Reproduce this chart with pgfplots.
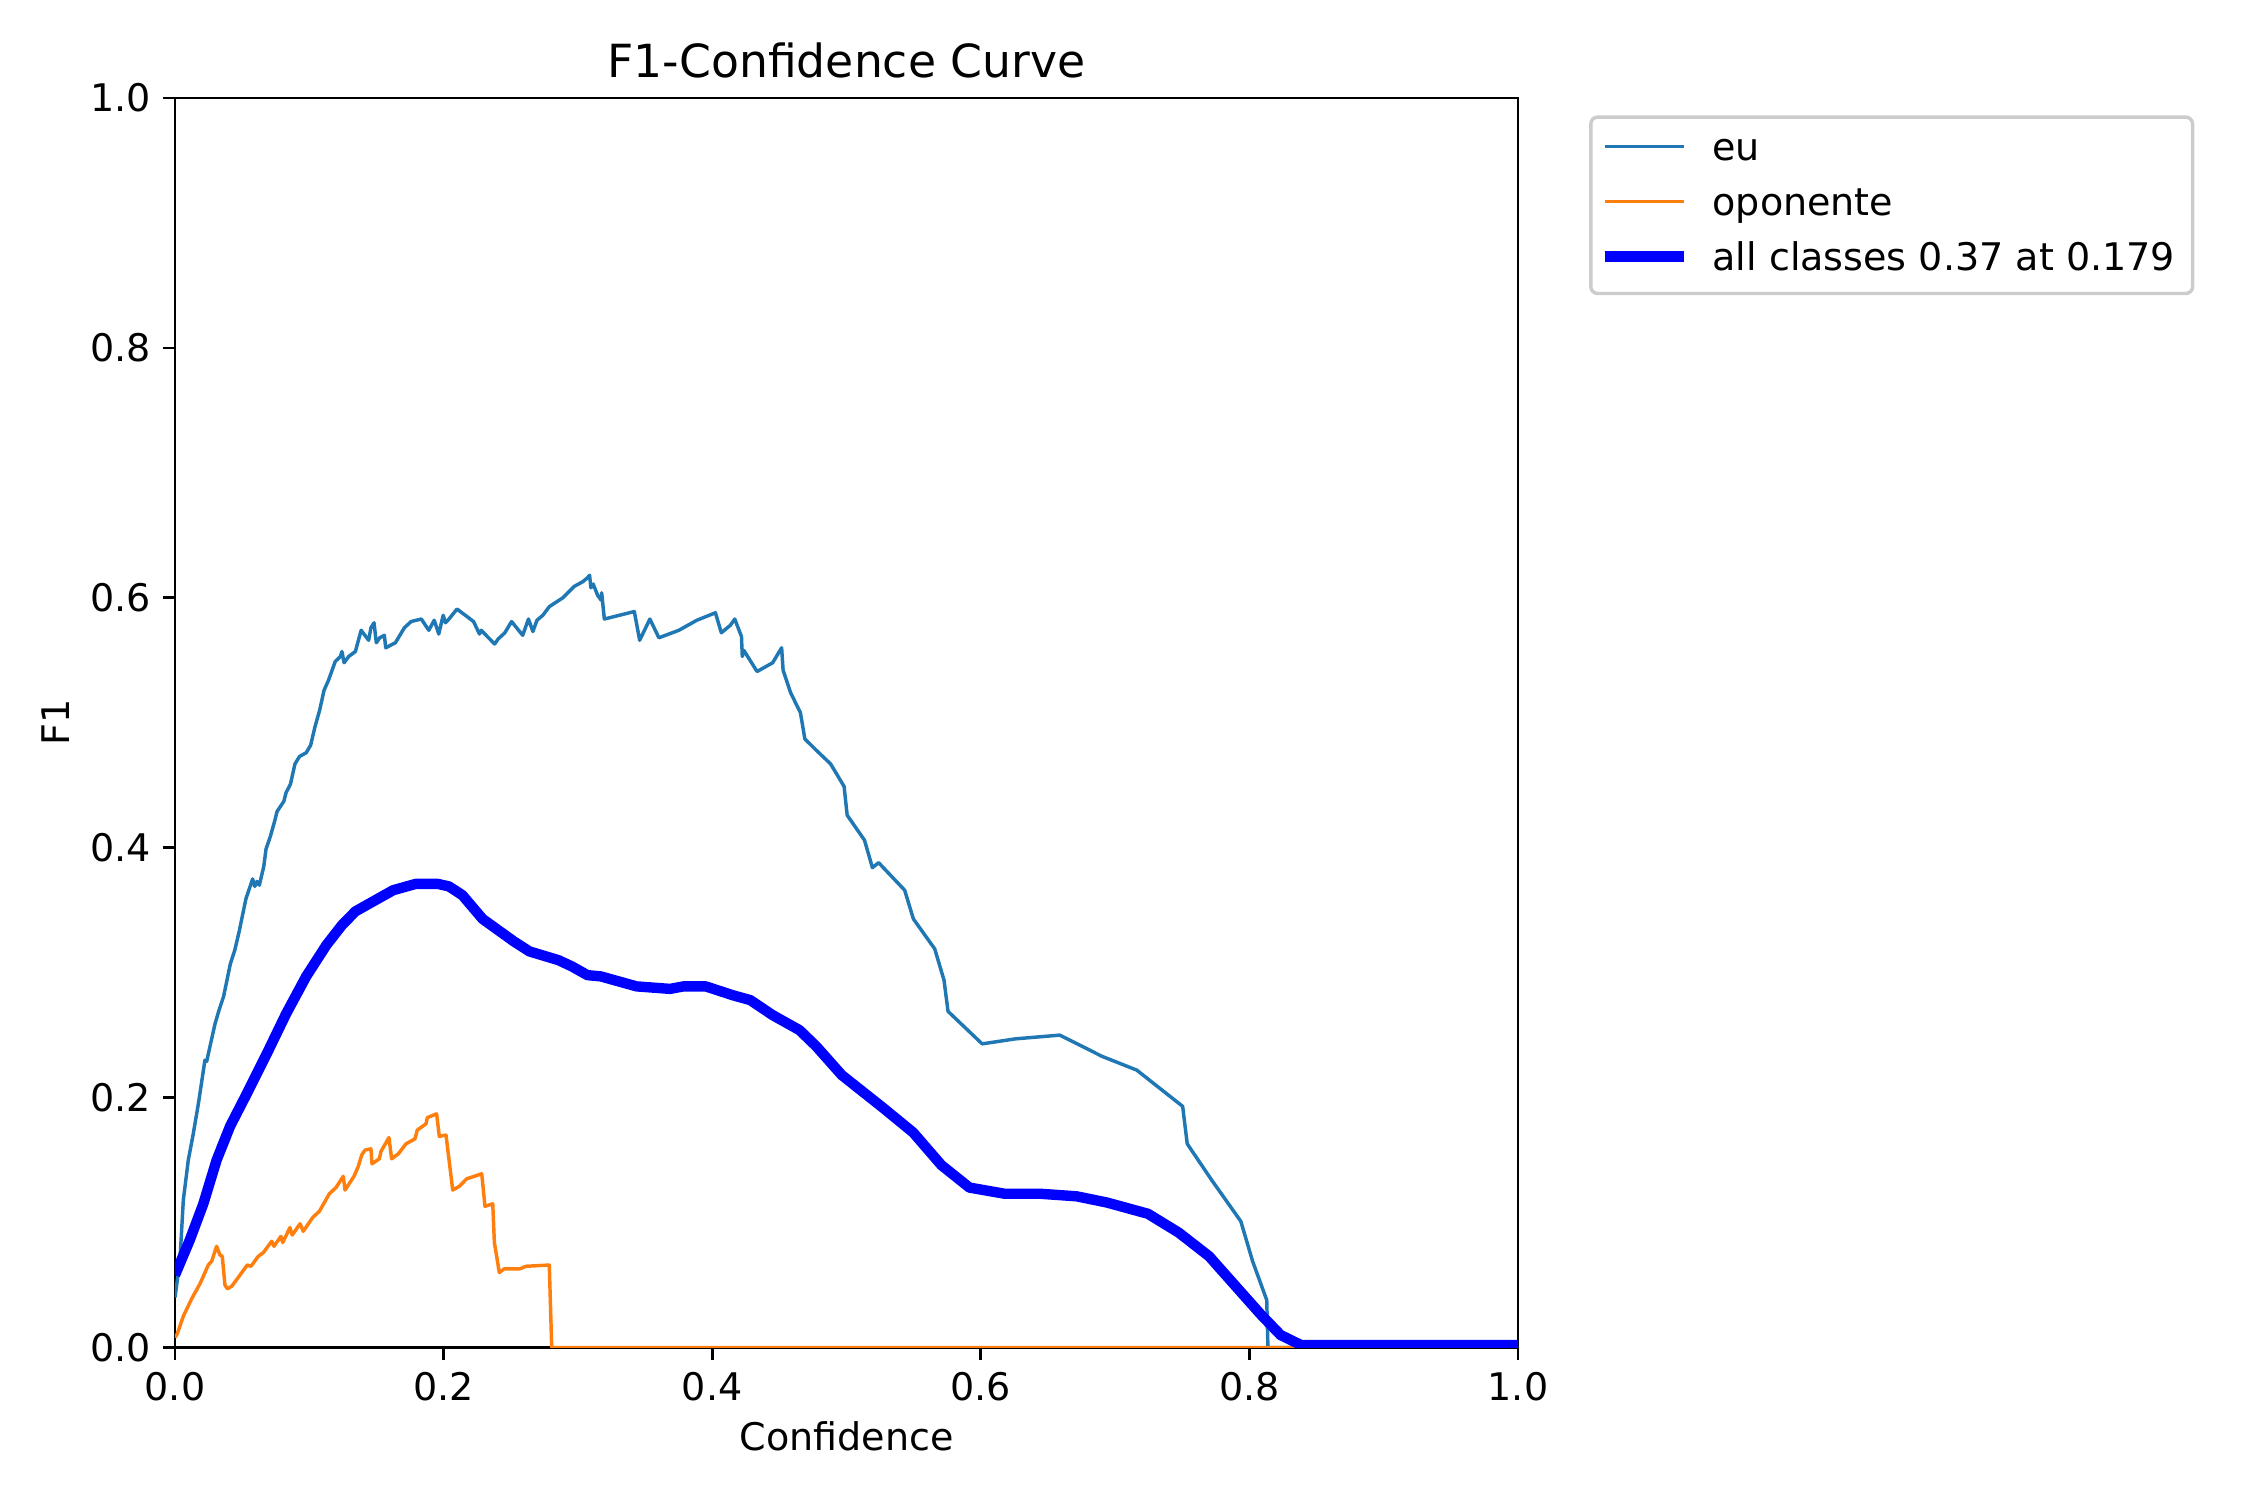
\documentclass[border=0pt]{standalone}
\usepackage{fontspec}
\setmainfont{DejaVu Sans}
\usepackage{pgfplots}
\pgfplotsset{compat=1.18}
\definecolor{cA}{HTML}{1F77B4}
\definecolor{cB}{HTML}{FF7F0E}
\definecolor{legframe}{gray}{0.8}
\begin{document}
\begin{tikzpicture}
\path[use as bounding box] (0,0) rectangle (9in,6in);
\begin{axis}[
  at={(0.70in,0.61in)}, anchor=south west,
  scale only axis, width=5.372in, height=4.998in,
  xmin=0, xmax=1, ymin=0, ymax=1,
  xtick={0,0.2,0.4,0.6,0.8,1}, ytick={0,0.2,0.4,0.6,0.8,1},
  /pgf/number format/.cd, fixed, fixed zerofill, precision=1, assume math mode=true,
  /pgfplots/.cd,
  tick align=outside, xtick pos=bottom, ytick pos=left,
  major tick length=3.5pt,
  tick style={line width=0.8pt, black},
  axis line style={line width=0.8pt, black},
  tick label style={font=\fontsize{11}{13}\selectfont},
  title={F1-Confidence Curve},
  title style={at={(axis description cs:0.5,1)}, anchor=base, yshift=0pt, inner sep=0pt, font=\fontsize{13.2}{15.8}\selectfont},
  xlabel={Confidence},
  xlabel style={at={([yshift=-29.8pt]axis description cs:0.5,0)}, anchor=base, inner sep=0pt, font=\fontsize{11}{13}\selectfont},
  ylabel={F1},
  ylabel style={at={([xshift=-30.4pt]axis description cs:0,0.5)}, anchor=base, inner sep=0pt, font=\fontsize{11}{13}\selectfont},
  legend style={at={(1.0529,0.9861)}, anchor=north west, draw=legframe, line width=1pt, rounded corners=2pt,
    inner xsep=2.5pt, inner ysep=4pt, row sep=4.7pt, column sep=4.1pt,
    nodes={inner xsep=2.6pt, inner ysep=0pt, text height=8.5pt, text depth=2.7pt},
    font=\fontsize{11}{13}\selectfont},
  legend cell align=left,
  legend image code/.code={\draw[#1] (0pt,1.1pt) -- (23pt,1.1pt);},
]
\addplot[cA, line width=1pt, line join=round] coordinates {
(0,0.040)(0.0037,0.070)(0.0062,0.118)(0.0099,0.150)(0.0136,0.171)(0.0174,0.195)(0.0223,0.230)(0.0236,0.229)
(0.0273,0.247)(0.0298,0.259)(0.0328,0.270)(0.0362,0.281)(0.0412,0.307)(0.0445,0.318)(0.0478,0.333)(0.0501,0.345)
(0.0528,0.359)(0.0578,0.375)(0.0594,0.369)(0.061,0.373)(0.0628,0.370)(0.0661,0.385)(0.0678,0.399)(0.071,0.409)
(0.0744,0.422)(0.076,0.429)(0.081,0.437)(0.0827,0.444)(0.086,0.451)(0.0893,0.467)(0.0927,0.473)(0.0977,0.476)
(0.101,0.482)(0.1043,0.497)(0.1077,0.510)(0.111,0.526)(0.1143,0.534)(0.1193,0.549)(0.1232,0.553)(0.1243,0.557)
(0.1259,0.548)(0.1293,0.553)(0.1343,0.557)(0.1386,0.574)(0.1442,0.566)(0.1459,0.576)(0.1482,0.580)(0.1499,0.564)
(0.1525,0.568)(0.1559,0.570)(0.1569,0.560)(0.1641,0.564)(0.1708,0.576)(0.1758,0.581)(0.1834,0.583)(0.189,0.574)
(0.193,0.582)(0.1964,0.571)(0.1997,0.586)(0.2014,0.580)(0.204,0.583)(0.21,0.591)(0.2223,0.581)(0.2267,0.571)
(0.228,0.574)(0.238,0.563)(0.2406,0.567)(0.2456,0.572)(0.2506,0.581)(0.2589,0.570)(0.2632,0.583)(0.2665,0.573)
(0.2695,0.582)(0.2739,0.586)(0.2788,0.593)(0.2888,0.600)(0.2971,0.609)(0.3038,0.613)(0.3071,0.616)(0.3087,0.618)
(0.3097,0.608)(0.3114,0.611)(0.3147,0.602)(0.3174,0.598)(0.3177,0.604)(0.3197,0.583)(0.342,0.589)(0.346,0.566)
(0.3536,0.583)(0.3603,0.568)(0.3752,0.574)(0.3885,0.582)(0.4024,0.588)(0.4068,0.572)(0.4135,0.578)(0.4168,0.583)
(0.4218,0.569)(0.4224,0.553)(0.4235,0.558)(0.4334,0.541)(0.445,0.548)(0.4517,0.560)(0.4528,0.542)(0.4584,0.524)
(0.4657,0.508)(0.469,0.487)(0.4775,0.478)(0.4882,0.467)(0.4982,0.449)(0.5005,0.426)(0.5134,0.406)(0.5193,0.384)
(0.5239,0.388)(0.5433,0.366)(0.5498,0.343)(0.5657,0.319)(0.5726,0.294)(0.5756,0.269)(0.601,0.243)(0.6257,0.247)
(0.6588,0.250)(0.6903,0.233)(0.7161,0.222)(0.7503,0.193)(0.7537,0.163)(0.7719,0.134)(0.7936,0.101)(0.8024,0.069)
(0.8129,0.038)(0.8138,0.0)(1,0)
};
\addlegendentry{eu}
\addplot[cB, line width=1pt, line join=round] coordinates {
(0,0.008)(0.0017,0.011)(0.0062,0.025)(0.0124,0.039)(0.0186,0.051)(0.0248,0.066)(0.0273,0.069)(0.031,0.081)
(0.0335,0.074)(0.0352,0.073)(0.0372,0.050)(0.039,0.047)(0.0422,0.049)(0.0471,0.056)(0.0538,0.066)(0.0566,0.065)
(0.062,0.073)(0.0658,0.076)(0.072,0.085)(0.0737,0.081)(0.0789,0.089)(0.0802,0.084)(0.0856,0.096)(0.0873,0.090)
(0.0931,0.099)(0.0955,0.093)(0.1025,0.104)(0.1075,0.109)(0.1149,0.123)(0.1199,0.128)(0.1253,0.137)(0.1266,0.126)
(0.1333,0.137)(0.1365,0.145)(0.139,0.154)(0.1415,0.158)(0.1459,0.159)(0.1467,0.147)(0.1521,0.151)(0.1534,0.157)
(0.1593,0.168)(0.1613,0.151)(0.1663,0.155)(0.172,0.163)(0.1787,0.167)(0.1804,0.174)(0.1869,0.179)(0.1879,0.184)
(0.1948,0.187)(0.1968,0.169)(0.2018,0.170)(0.2068,0.126)(0.2117,0.129)(0.2172,0.135)(0.2284,0.139)(0.2308,0.113)
(0.2366,0.115)(0.2378,0.084)(0.2415,0.060)(0.2452,0.063)(0.2569,0.063)(0.2614,0.065)(0.2787,0.066)(0.2805,0.0)
(1,0)
};
\addlegendentry{oponente}
\addplot[blue, line width=3pt, line join=round] coordinates {
(0,0.058)(0.0012,0.061)(0.011,0.086)(0.0211,0.115)(0.031,0.150)(0.041,0.177)(0.0534,0.203)(0.0683,0.235)
(0.0827,0.267)(0.0977,0.297)(0.1127,0.322)(0.1243,0.338)(0.1343,0.349)(0.1492,0.358)(0.1625,0.366)(0.1791,0.371)
(0.1958,0.371)(0.204,0.369)(0.214,0.362)(0.229,0.343)(0.2523,0.325)(0.2639,0.317)(0.2855,0.310)(0.2955,0.305)
(0.3071,0.298)(0.317,0.297)(0.3437,0.289)(0.3686,0.287)(0.3786,0.289)(0.3952,0.289)(0.4151,0.282)(0.4284,0.278)
(0.445,0.266)(0.465,0.254)(0.4775,0.241)(0.4965,0.218)(0.527,0.192)(0.5497,0.172)(0.5706,0.146)(0.5915,0.128)
(0.618,0.123)(0.6447,0.123)(0.6713,0.121)(0.694,0.116)(0.7245,0.107)(0.7473,0.092)(0.77,0.073)(0.789,0.050)
(0.808,0.027)(0.8232,0.010)(0.8384,0.002)(1,0.002)
};
\addlegendentry{all classes 0.37 at 0.179}
\end{axis}
\end{tikzpicture}
\end{document}
